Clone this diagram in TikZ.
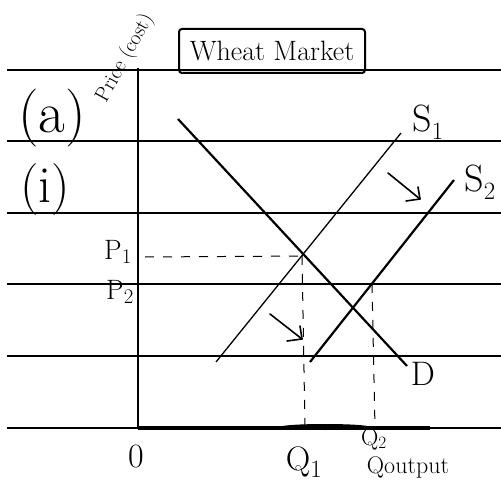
\documentclass[tikz,border=0pt]{standalone}
\usepackage{fontspec}
\usetikzlibrary{calc}
\newcommand{\fs}[1]{\fontsize{#1}{#1}\selectfont}
\begin{document}
\begin{tikzpicture}[x=1pt,y=-1pt,
  rule/.style={line width=1.8pt},
  curve/.style={line width=2.2pt},
  thincurve/.style={line width=1.3pt},
  guide/.style={line width=1pt,dash pattern=on 9pt off 9pt},
  lbl/.style={font=\fs{28}},
  hand/.style={line width=1.6pt,line cap=round,line join=round}]
\useasboundingbox (0,0) rectangle (501,484);
% ruled paper lines
\foreach \yy in {70,141,213,284,356,428}
  \draw[rule] (7,\yy) -- (501,\yy);
% axes
\coordinate (O) at (138,428);
\coordinate (ytop) at (138,68);
\coordinate (xend) at (430,428);
\draw[line width=1.8pt] (ytop) -- (O);
\draw[line width=3.5pt] (O) -- (xend);
\fill (325,427) ellipse (45pt and 3pt);
% title box
\node[draw,line width=2pt,rounded corners=3pt,minimum width=186pt,minimum height=44pt,
      inner sep=1pt,font=\fs{28}] (title) at (272,51) {Wheat Market};
% side labels
\node[font=\fs{58}] (a) at (52,118) {(a)};
\node[font=\fs{52}] (i) at (45,190) {(i)};
\node[rotate=61,font=\fs{21},inner sep=0pt] (price) at (125,58) {Price (cost)};
% curves
\coordinate (Dtop) at (178,119);
\coordinate (Dbot) at (407,366);
\coordinate (S1bot) at (216,362);
\coordinate (S1top) at (401,133);
\coordinate (S2bot) at (310,362);
\coordinate (S2top) at (454,180);
\draw[curve] (Dtop) -- (Dbot);
\draw[thincurve] (S1bot) -- (S1top);
\draw[curve] (S2bot) -- (S2top);
\node[font=\fs{34}] (Dl) at (423,374) {D};
\node[font=\fs{38}] (S1l) at (428,122) {S$_1$};
\node[font=\fs{38}] (S2l) at (480,182) {S$_2$};
% equilibria
\coordinate (E1) at (302,256);
\coordinate (E2) at (372,284);
\coordinate (P1a) at (145,257);
\coordinate (Q1a) at (305,428);
\coordinate (Q2a) at (375,428);
\draw[guide] (P1a) -- (E1);
\draw[guide] (E1) -- (Q1a);
\draw[guide] (E2) -- (Q2a);
\node[lbl] (P1) at (118,252) {P$_1$};
\node[lbl] (P2) at (120,292) {P$_2$};
\node[font=\fs{34}] (zero) at (136,457) {0};
\node[font=\fs{34}] (Q1) at (304,462) {Q$_1$};
\node[font=\fs{24},inner sep=1pt] (Q2) at (374,439) {Q$_2$};
\node[font=\fs{24},inner sep=1pt] (Qout) at (408,467) {Qoutput};
% shift arrows
\coordinate (ar1s) at (388,173);
\coordinate (ar1e) at (420,199);
\draw[hand] (ar1s) -- (ar1e) -- (406,201);
\draw[hand] (ar1e) -- (418,187);
\coordinate (ar2s) at (270,314);
\coordinate (ar2e) at (302,339);
\draw[hand] (ar2s) -- (ar2e) -- (287,341);
\draw[hand] (ar2e) -- (300,326);
\end{tikzpicture}
\end{document}
